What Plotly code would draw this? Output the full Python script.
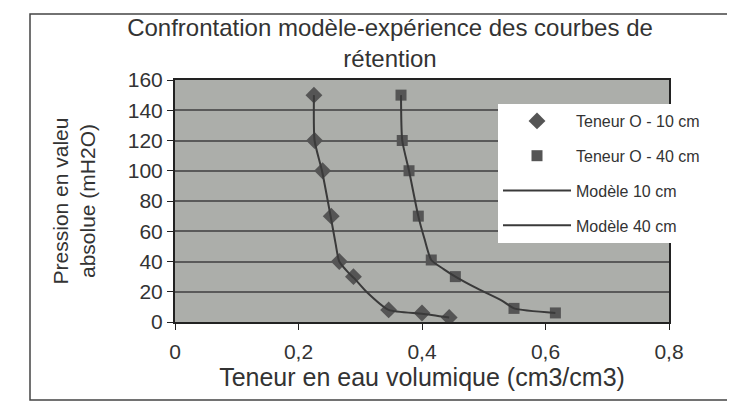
import plotly.graph_objects as go

# Experimental data (water content, pressure)
theta_10 = [0.225, 0.226, 0.239, 0.253, 0.266, 0.289, 0.346, 0.400, 0.444]
h_10 = [150, 120, 100, 70, 40, 30, 8, 6, 3]
theta_40 = [0.366, 0.368, 0.379, 0.394, 0.415, 0.454, 0.549, 0.616]
h_40 = [150, 120, 100, 70, 41, 30, 9, 6]

# Model curves
mod_theta_10 = [0.225, 0.226, 0.238, 0.252, 0.260, 0.266, 0.280, 0.290, 0.310, 0.346, 0.400, 0.444]
mod_h_10 = [150, 120, 100, 70, 52, 40, 33, 29, 20, 8, 5.5, 3]
mod_theta_40 = [0.366, 0.368, 0.379, 0.394, 0.404, 0.415, 0.435, 0.454, 0.490, 0.530, 0.549, 0.616]
mod_h_40 = [150, 120, 100, 70, 55, 41, 35, 30, 22, 14, 9, 6]

x_ticks = [0, 0.2, 0.4, 0.6, 0.8]
x_ticklabels = ["0", "0,2", "0,4", "0,6", "0,8"]
y_ticks = [0, 20, 40, 60, 80, 100, 120, 140, 160]

FONT = "Liberation Sans, Arial, sans-serif"
W, H = 735, 404
L, R, T, B = 167, 74, 72, 90
pw, ph = W - L - R, H - T - B

def px_x(p):
    return (p - L) / pw

def px_y(p):
    return (H - B - p) / ph

fig = go.Figure()
fig.add_trace(go.Scatter(x=theta_10, y=h_10, mode="markers", name="Teneur O - 10 cm",
                         marker=dict(symbol="diamond", size=13, color="#555555"),
                         legendgroup="a"))
fig.add_trace(go.Scatter(x=theta_40, y=h_40, mode="markers", name="Teneur O - 40 cm",
                         marker=dict(symbol="square", size=11, color="#555555"),
                         legendgroup="b"))
fig.add_trace(go.Scatter(x=mod_theta_10, y=mod_h_10, mode="lines", name="Modèle 10 cm",
                         line=dict(color="#3a3a3a", width=2, shape="spline", smoothing=0.6),
                         legendgroup="c"))
fig.add_trace(go.Scatter(x=mod_theta_40, y=mod_h_40, mode="lines", name="Modèle 40 cm",
                         line=dict(color="#3a3a3a", width=2, shape="spline", smoothing=0.6),
                         legendgroup="d"))

fig.update_layout(
    width=W, height=H,
    margin=dict(l=L, r=R, t=T, b=B),
    paper_bgcolor="white",
    plot_bgcolor="#acaeaa",
    font=dict(family=FONT, color="#333333", size=21),
    showlegend=True,
    legend=dict(x=px_x(490), y=px_y(96), xanchor="left", yanchor="top",
                bgcolor="white", borderwidth=0, tracegroupgap=11,
                font=dict(size=16, color="#333333"), itemwidth=68),
    xaxis=dict(range=[0, 0.8], tickvals=x_ticks, ticktext=x_ticklabels,
               showgrid=False, zeroline=False, showline=True, linecolor="#222222",
               linewidth=2, mirror=True, ticks="outside", ticklen=6, tickcolor="#222222",
               tickfont=dict(size=21), ticklabelstandoff=4,
               title=dict(text="Teneur en eau volumique (cm3/cm3)", font=dict(size=25), standoff=0)),
    yaxis=dict(range=[0, 160], tickvals=y_ticks,
               showgrid=True, gridcolor="#5a5a5a", gridwidth=1.5, zeroline=False,
               showline=True, linecolor="#222222", linewidth=2, mirror=True,
               ticks="outside", ticklen=6, tickcolor="#222222",
               tickfont=dict(size=21),
               title=dict(text="Pression en valeu<br>absolue (mH2O)", font=dict(size=21), standoff=26)),
    title=dict(text="Confrontation modèle-expérience des courbes de<br>rétention",
               x=382 / W, xanchor="center",
               y=1 - 28 / H, yanchor="middle", font=dict(size=24, color="#333333")),
    shapes=[dict(type="rect", xref="paper", yref="paper",
                 x0=px_x(22), x1=px_x(720), y0=px_y(392), y1=px_y(6),
                 line=dict(color="#444444", width=1.5), fillcolor="rgba(0,0,0,0)", layer="below")],
)

fig.write_html("out.html")
